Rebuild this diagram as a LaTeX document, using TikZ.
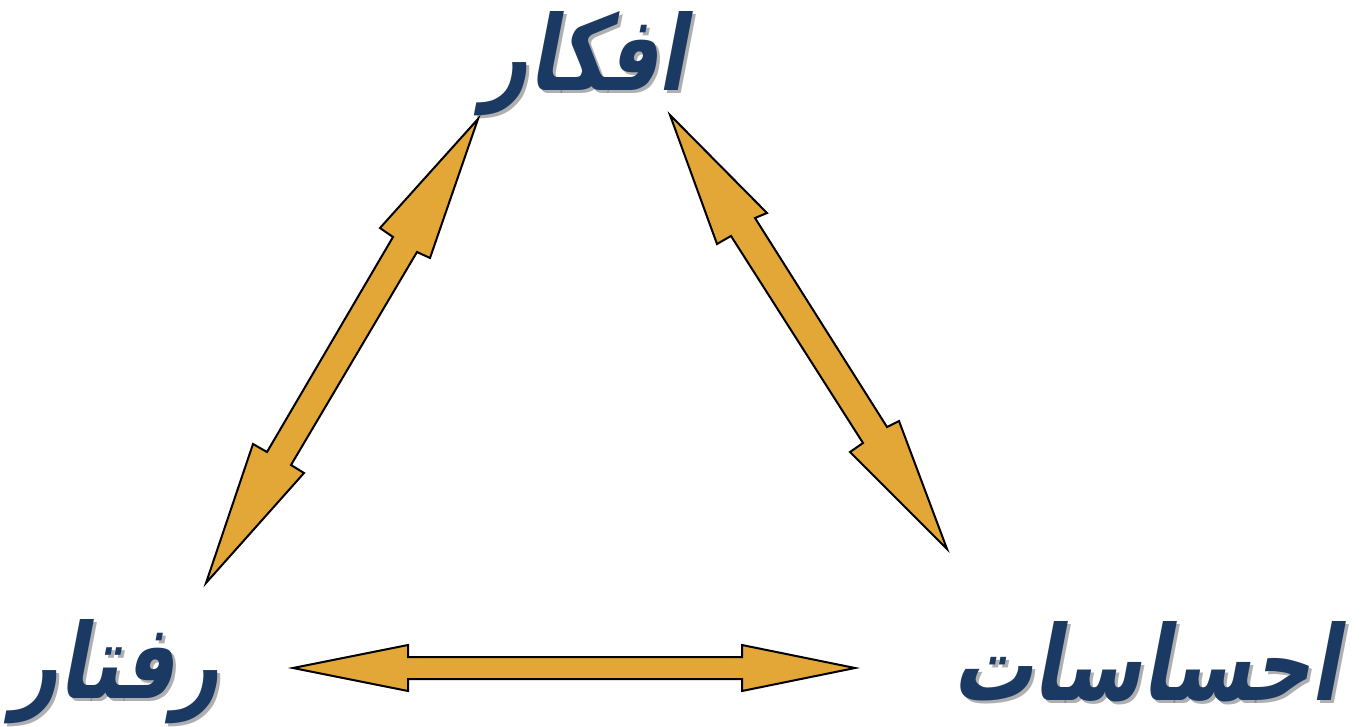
\documentclass[tikz,border=0pt]{standalone}
\usepackage{fontspec}
\usepackage{graphicx}
\TeXXeTstate=1
\newfontfamily\arabicfont[Script=Arabic,FakeSlant=0.25]{DejaVu Sans}
\definecolor{arrowfill}{RGB}{227,167,56}
\definecolor{wordblue}{RGB}{27,58,99}
\definecolor{shadowgray}{RGB}{110,110,110}
\newcommand{\persianword}[1]{\scalebox{0.77}[1]{\beginR #1\endR}}
\tikzset{
  blockarrow/.style={fill=arrowfill,draw=black,line width=2pt,line join=miter},
  word/.style={text=wordblue,font=\arabicfont\bfseries\fontsize{104}{104}\selectfont,inner sep=0pt},
  wordshadow/.style={text=shadowgray,opacity=0.55,font=\arabicfont\bfseries\fontsize{104}{104}\selectfont,inner sep=0pt}
}
\begin{document}
\begin{tikzpicture}[x=1pt,y=-1pt]
\useasboundingbox (0,0) rectangle (1364,727);
% words (shadow first)
\node[wordshadow] at (587,67) {\persianword{افکار}};
\node[word] (afkar) at (584,64) {\persianword{افکار}};
\node[wordshadow] at (119,675) {\persianword{رفتار}};
\node[word] (raftar) at (116,672) {\persianword{رفتار}};
\node[wordshadow] at (1148,665) {\persianword{احساسات}};
\node[word] (ehsasat) at (1145,662) {\persianword{احساسات}};
% left diagonal arrow: raftar <-> afkar
\draw[blockarrow] (478,119) -- (430,258) -- (417,252) -- (291,465) -- (304,473)
  -- (206,583) -- (253,444) -- (267,452) -- (393,237) -- (380,228) -- cycle;
% right diagonal arrow: afkar <-> ehsasat
\draw[blockarrow] (670,115) -- (767,213) -- (755,218) -- (887,427) -- (899,421)
  -- (947,549) -- (850,452) -- (863,443) -- (731,236) -- (717,244) -- cycle;
% bottom arrow: raftar <-> ehsasat
\draw[blockarrow] (293,668) -- (408,645) -- (408,657) -- (742,657) -- (742,645)
  -- (855,668) -- (742,691) -- (742,679) -- (408,679) -- (408,691) -- cycle;
\end{tikzpicture}
\end{document}
